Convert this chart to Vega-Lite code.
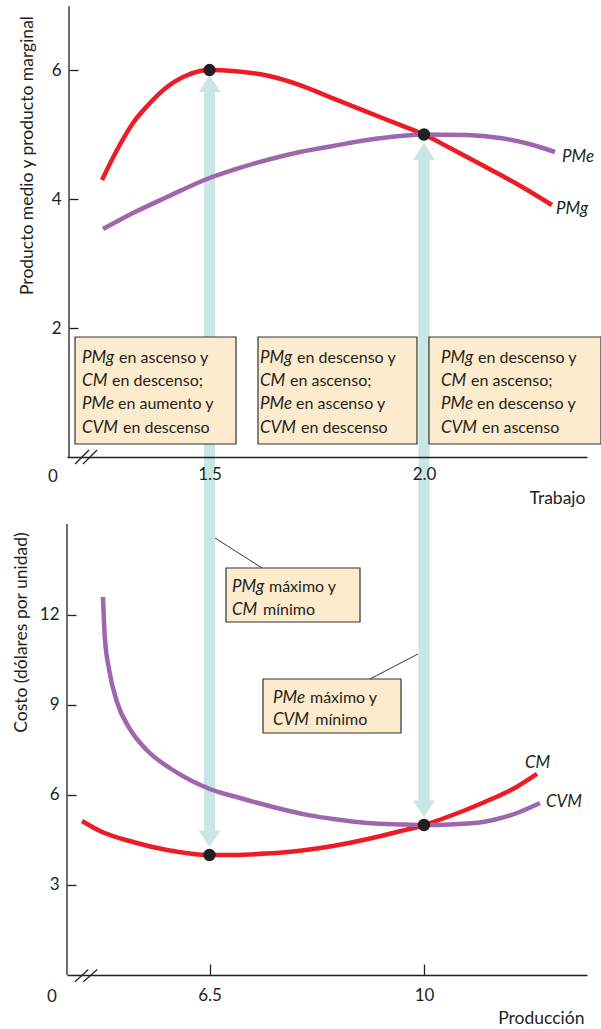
{
  "$schema": "https://vega.github.io/schema/vega-lite/v6.json",
  "width": 520,
  "height": 970,
  "autosize": "none",
  "padding": {"left": 67, "top": 5, "right": 14, "bottom": 54},
  "background": "white",
  "config": {
    "view": {"stroke": null},
    "axis": {
      "grid": false,
      "labelFont": "Lato",
      "labelFontSize": 17,
      "labelColor": "#231f20",
      "titleFont": "Lato",
      "titleFontSize": 17.5,
      "titleFontWeight": "normal",
      "titleColor": "#231f20",
      "domainColor": "#231f20",
      "domainWidth": 1.3,
      "tickColor": "#231f20",
      "tickWidth": 1.3
    },
    "text": {"font": "Lato", "fontSize": 16, "color": "#231f20"}
  },
  "datasets": {
    "topCurves": [
      {"curve": "PMg", "x": 1.2494, "y": 4.295},
      {"curve": "PMg", "x": 1.2844, "y": 4.76},
      {"curve": "PMg", "x": 1.3217, "y": 5.178},
      {"curve": "PMg", "x": 1.3613, "y": 5.488},
      {"curve": "PMg", "x": 1.4009, "y": 5.736},
      {"curve": "PMg", "x": 1.4382, "y": 5.891},
      {"curve": "PMg", "x": 1.4779, "y": 5.984},
      {"curve": "PMg", "x": 1.5, "y": 6.0},
      {"curve": "PMg", "x": 1.5548, "y": 5.985},
      {"curve": "PMg", "x": 1.634, "y": 5.915},
      {"curve": "PMg", "x": 1.711, "y": 5.767},
      {"curve": "PMg", "x": 1.7879, "y": 5.56},
      {"curve": "PMg", "x": 1.8671, "y": 5.35},
      {"curve": "PMg", "x": 1.9441, "y": 5.15},
      {"curve": "PMg", "x": 2.0, "y": 5.0},
      {"curve": "PMg", "x": 2.0606, "y": 4.791},
      {"curve": "PMg", "x": 2.1375, "y": 4.519},
      {"curve": "PMg", "x": 2.2168, "y": 4.233},
      {"curve": "PMg", "x": 2.2984, "y": 3.907},
      {"curve": "PMe", "x": 1.2517, "y": 3.535},
      {"curve": "PMe", "x": 1.3217, "y": 3.783},
      {"curve": "PMe", "x": 1.4009, "y": 4.031},
      {"curve": "PMe", "x": 1.5, "y": 4.326},
      {"curve": "PMe", "x": 1.5548, "y": 4.45},
      {"curve": "PMe", "x": 1.634, "y": 4.605},
      {"curve": "PMe", "x": 1.711, "y": 4.729},
      {"curve": "PMe", "x": 1.7879, "y": 4.822},
      {"curve": "PMe", "x": 1.8671, "y": 4.915},
      {"curve": "PMe", "x": 1.9441, "y": 4.977},
      {"curve": "PMe", "x": 2.0, "y": 5.0},
      {"curve": "PMe", "x": 2.1002, "y": 4.992},
      {"curve": "PMe", "x": 2.1772, "y": 4.946},
      {"curve": "PMe", "x": 2.2541, "y": 4.837},
      {"curve": "PMe", "x": 2.3054, "y": 4.729}
    ],
    "botCurves": [
      {"curve": "CM", "x": 4.4196, "y": 5.133},
      {"curve": "CM", "x": 4.7133, "y": 4.8},
      {"curve": "CM", "x": 5.2518, "y": 4.433},
      {"curve": "CM", "x": 5.8065, "y": 4.167},
      {"curve": "CM", "x": 6.5, "y": 4.0},
      {"curve": "CM", "x": 6.8834, "y": 4.0},
      {"curve": "CM", "x": 7.4382, "y": 4.05},
      {"curve": "CM", "x": 7.9767, "y": 4.143},
      {"curve": "CM", "x": 8.5152, "y": 4.3},
      {"curve": "CM", "x": 9.0699, "y": 4.523},
      {"curve": "CM", "x": 9.6083, "y": 4.79},
      {"curve": "CM", "x": 10.0, "y": 5.0},
      {"curve": "CM", "x": 10.4243, "y": 5.3},
      {"curve": "CM", "x": 10.9627, "y": 5.743},
      {"curve": "CM", "x": 11.5175, "y": 6.277},
      {"curve": "CM", "x": 11.8438, "y": 6.7},
      {"curve": "CVM", "x": 4.7622, "y": 12.6},
      {"curve": "CVM", "x": 4.79, "y": 11.3},
      {"curve": "CVM", "x": 4.86, "y": 10.2},
      {"curve": "CVM", "x": 4.99, "y": 9.1},
      {"curve": "CVM", "x": 5.2, "y": 8.2},
      {"curve": "CVM", "x": 5.5, "y": 7.45},
      {"curve": "CVM", "x": 5.85, "y": 6.9},
      {"curve": "CVM", "x": 6.1818, "y": 6.5},
      {"curve": "CVM", "x": 6.5082, "y": 6.2},
      {"curve": "CVM", "x": 6.9977, "y": 5.9},
      {"curve": "CVM", "x": 7.5361, "y": 5.6},
      {"curve": "CVM", "x": 8.1399, "y": 5.32},
      {"curve": "CVM", "x": 8.5152, "y": 5.2},
      {"curve": "CVM", "x": 9.0699, "y": 5.067},
      {"curve": "CVM", "x": 9.6083, "y": 5.02},
      {"curve": "CVM", "x": 10.0, "y": 5.0},
      {"curve": "CVM", "x": 10.4243, "y": 5.02},
      {"curve": "CVM", "x": 10.9627, "y": 5.1},
      {"curve": "CVM", "x": 11.5175, "y": 5.4},
      {"curve": "CVM", "x": 11.8928, "y": 5.733}
    ],
    "arrows": [
      {"x": 1.5, "y": 5.69, "y2": -5.8295},
      {"x": 2.0, "y": 4.6357, "y2": -5.3798}
    ],
    "arrowHeads": [
      {"x": 1.5, "y": 5.9225, "dir": "up"},
      {"x": 2.0, "y": 4.8682, "dir": "up"},
      {"x": 1.5, "y": -6.0465, "dir": "down"},
      {"x": 2.0, "y": -5.5814, "dir": "down"}
    ],
    "topAxisLine": [{"x": 1.1725, "y": 0, "y2": 6.99}],
    "botAxisLine": [{"x": 4.1748, "y": 0, "y2": 15.033}],
    "topDots": [{"x": 1.5, "y": 6.0}, {"x": 2.0, "y": 5.0}],
    "botDots": [{"x": 6.5, "y": 4.0}, {"x": 10.0, "y": 5.0}],
    "topBoxes": [
      {"x": 1.18648, "x2": 1.56177, "y": 1.8605, "y2": 0.2016},
      {"x": 1.61305, "x2": 1.98368, "y": 1.8605, "y2": 0.2016},
      {"x": 2.01166, "x2": 2.41259, "y": 1.8605, "y2": 0.2016}
    ],
    "topText": [
      {"part": "sym", "x": 1.2028, "y": 1.462, "text": "PMg"},
      {"part": "desc", "x": 1.2891, "y": 1.462, "text": "en ascenso y"},
      {"part": "sym", "x": 1.2028, "y": 1.101, "text": "CM"},
      {"part": "desc", "x": 1.2728, "y": 1.101, "text": "en descenso;"},
      {"part": "sym", "x": 1.2028, "y": 0.7395, "text": "PMe"},
      {"part": "desc", "x": 1.2867, "y": 0.7395, "text": "en aumento y"},
      {"part": "sym", "x": 1.2028, "y": 0.3767, "text": "CVM"},
      {"part": "desc", "x": 1.2983, "y": 0.3767, "text": "en descenso"},
      {"part": "sym", "x": 1.6177, "y": 1.462, "text": "PMg"},
      {"part": "desc", "x": 1.704, "y": 1.462, "text": "en descenso y"},
      {"part": "sym", "x": 1.6177, "y": 1.101, "text": "CM"},
      {"part": "desc", "x": 1.6877, "y": 1.101, "text": "en ascenso;"},
      {"part": "sym", "x": 1.6177, "y": 0.7395, "text": "PMe"},
      {"part": "desc", "x": 1.7017, "y": 0.7395, "text": "en ascenso y"},
      {"part": "sym", "x": 1.6177, "y": 0.3767, "text": "CVM"},
      {"part": "desc", "x": 1.7132, "y": 0.3767, "text": "en descenso"},
      {"part": "sym", "x": 2.0396, "y": 1.462, "text": "PMg"},
      {"part": "desc", "x": 2.1259, "y": 1.462, "text": "en descenso y"},
      {"part": "sym", "x": 2.0396, "y": 1.101, "text": "CM"},
      {"part": "desc", "x": 2.1096, "y": 1.101, "text": "en ascenso;"},
      {"part": "sym", "x": 2.0396, "y": 0.7395, "text": "PMe"},
      {"part": "desc", "x": 2.1236, "y": 0.7395, "text": "en descenso y"},
      {"part": "sym", "x": 2.0396, "y": 0.3767, "text": "CVM"},
      {"part": "desc", "x": 2.1352, "y": 0.3767, "text": "en ascenso"}
    ],
    "topLabels": [
      {"x": 2.3217, "y": 4.574, "text": "PMe"},
      {"x": 2.3077, "y": 3.767, "text": "PMg"}
    ],
    "topBreak": [
      {"x": 1.1865, "y": -0.1085, "x2": 1.2191, "y2": 0.1085},
      {"x": 1.2051, "y": -0.1085, "x2": 1.2378, "y2": 0.1085}
    ],
    "topZero": [{"x": 1.1352, "y": -0.3101, "text": "0"}],
    "botBoxes": [
      {"x": 6.7692, "x2": 8.9557, "y": 13.567, "y2": 11.767},
      {"x": 7.373, "x2": 9.6247, "y": 9.867, "y2": 8.067}
    ],
    "botText": [
      {"part": "sym", "x": 6.8671, "y": 12.757, "text": "PMg"},
      {"part": "desc", "x": 7.4708, "y": 12.757, "text": "máximo y"},
      {"part": "sym", "x": 6.8671, "y": 12.0, "text": "CM"},
      {"part": "desc", "x": 7.3729, "y": 12.0, "text": "mínimo"},
      {"part": "sym", "x": 7.5361, "y": 9.077, "text": "PMe"},
      {"part": "desc", "x": 8.1398, "y": 9.077, "text": "máximo y"},
      {"part": "sym", "x": 7.5361, "y": 8.333, "text": "CVM"},
      {"part": "desc", "x": 8.2263, "y": 8.333, "text": "mínimo"}
    ],
    "leaders": [
      {"x": 6.5897, "y": 14.567, "x2": 7.3566, "y2": 13.567},
      {"x": 9.1189, "y": 9.867, "x2": 9.902, "y2": 10.7}
    ],
    "botLabels": [
      {"x": 11.648, "y": 6.9, "text": "CM"},
      {"x": 11.9907, "y": 5.61, "text": "CVM"}
    ],
    "botBreak": [
      {"x": 4.3054, "y": -0.2233, "x2": 4.5224, "y2": 0.1833},
      {"x": 4.4408, "y": -0.2233, "x2": 4.6692, "y2": 0.1833}
    ],
    "botZero": [{"x": 3.93, "y": -0.7333, "text": "0"}]
  },
  "layer": [
    {
      "encoding": {
        "x": {
          "field": "x", "type": "quantitative",
          "scale": {"domain": [1.1678, 2.38], "nice": false, "zero": false},
          "axis": {
            "orient": "bottom", "offset": -518, "values": [1.5, 2.0], "format": ".1f",
            "ticks": false, "labelPadding": 9, "zindex": 1,
            "title": "Trabajo", "titleX": 518, "titleY": 41,
            "titleAlign": "right", "titleBaseline": "middle"
          }
        },
        "y": {
          "field": "y", "type": "quantitative",
          "scale": {"domain": [-8.031, 7.008], "nice": false, "zero": false},
          "axis": {
            "orient": "left", "offset": -2, "values": [2, 4, 6], "domain": false,
            "tickSize": -9, "labelPadding": 17,
            "title": "Producto medio y producto marginal",
            "titleX": -42, "titleY": 150, "titleAngle": 270,
            "titleAlign": "center", "titleBaseline": "middle"
          }
        }
      },
      "layer": [
        {
          "data": {"name": "arrows"},
          "mark": {"type": "rule", "strokeWidth": 11, "color": "#c8e6e3"},
          "encoding": {"y2": {"field": "y2"}}
        },
        {
          "data": {"name": "arrowHeads"},
          "transform": [{"filter": "datum.dir === 'up'"}],
          "mark": {"type": "point", "shape": "M0,0L-1,1.55L1,1.55Z", "size": 484, "filled": true, "color": "#c8e6e3", "opacity": 1, "strokeWidth": 0}
        },
        {
          "data": {"name": "arrowHeads"},
          "transform": [{"filter": "datum.dir === 'down'"}],
          "mark": {"type": "point", "shape": "M0,0L-1,-1.5L1,-1.5Z", "size": 484, "filled": true, "color": "#c8e6e3", "opacity": 1, "strokeWidth": 0}
        },
        {
          "data": {"name": "topAxisLine"},
          "mark": {"type": "rule", "color": "#231f20", "strokeWidth": 1.3},
          "encoding": {"y2": {"field": "y2"}}
        },
        {
          "data": {"name": "topCurves"},
          "mark": {"type": "line", "strokeWidth": 4.5, "interpolate": "monotone"},
          "encoding": {
            "color": {
              "field": "curve", "type": "nominal",
              "scale": {"domain": ["PMg", "PMe", "CM", "CVM"], "range": ["#ed1c24", "#a066ad", "#ed1c24", "#a066ad"]},
              "legend": null
            }
          }
        },
        {
          "data": {"name": "topBoxes"},
          "mark": {"type": "rect", "fill": "#fdebcd", "stroke": "#333333", "strokeWidth": 1.2},
          "encoding": {"x2": {"field": "x2"}, "y2": {"field": "y2"}}
        },
        {
          "data": {"name": "topText"},
          "transform": [{"filter": "datum.part === 'sym'"}],
          "mark": {"type": "text", "align": "left", "baseline": "alphabetic", "fontStyle": "italic", "fontSize": 17},
          "encoding": {"text": {"field": "text"}}
        },
        {
          "data": {"name": "topText"},
          "transform": [{"filter": "datum.part === 'desc'"}],
          "mark": {"type": "text", "align": "left", "baseline": "alphabetic"},
          "encoding": {"text": {"field": "text"}}
        },
        {
          "data": {"name": "topLabels"},
          "mark": {"type": "text", "align": "left", "baseline": "alphabetic", "fontStyle": "italic", "fontSize": 17},
          "encoding": {"text": {"field": "text"}}
        },
        {
          "data": {"name": "topDots"},
          "mark": {"type": "point", "shape": "circle", "size": 154, "filled": true, "color": "#231f20", "opacity": 1}
        },
        {
          "data": {"name": "topBreak"},
          "mark": {"type": "rule", "color": "#231f20", "strokeWidth": 1.2},
          "encoding": {"x2": {"field": "x2"}, "y2": {"field": "y2"}}
        },
        {
          "data": {"name": "topZero"},
          "mark": {"type": "text", "align": "center", "baseline": "middle", "fontSize": 17},
          "encoding": {"text": {"field": "text"}}
        }
      ]
    },
    {
      "encoding": {
        "x": {
          "field": "x", "type": "quantitative",
          "scale": {"domain": [4.1748, 12.6597], "nice": false, "zero": false},
          "axis": {
            "orient": "bottom", "offset": 0, "values": [6.5, 10], "format": ".2r",
            "tickSize": -11, "labelPadding": 23,
            "title": "Producción", "titleX": 517, "titleY": 43,
            "titleAlign": "right", "titleBaseline": "middle"
          }
        },
        "y": {
          "field": "y", "type": "quantitative",
          "scale": {"domain": [0, 32.333], "nice": false, "zero": false},
          "axis": {
            "orient": "left", "offset": 0, "values": [3, 6, 9, 12], "domain": false,
            "tickSize": -9, "labelPadding": 17,
            "title": "Costo (dólares por unidad)",
            "titleX": -46, "titleY": 627, "titleAngle": 270,
            "titleAlign": "center", "titleBaseline": "middle"
          }
        }
      },
      "layer": [
        {
          "data": {"name": "botAxisLine"},
          "mark": {"type": "rule", "color": "#231f20", "strokeWidth": 1.3},
          "encoding": {"y2": {"field": "y2"}}
        },
        {
          "data": {"name": "botCurves"},
          "mark": {"type": "line", "strokeWidth": 4.5, "interpolate": "monotone"},
          "encoding": {
            "color": {
              "field": "curve", "type": "nominal",
              "scale": {"domain": ["PMg", "PMe", "CM", "CVM"], "range": ["#ed1c24", "#a066ad", "#ed1c24", "#a066ad"]},
              "legend": null
            }
          }
        },
        {
          "data": {"name": "leaders"},
          "mark": {"type": "rule", "color": "#231f20", "strokeWidth": 0.9},
          "encoding": {"x2": {"field": "x2"}, "y2": {"field": "y2"}}
        },
        {
          "data": {"name": "botBoxes"},
          "mark": {"type": "rect", "fill": "#fdebcd", "stroke": "#333333", "strokeWidth": 1.2},
          "encoding": {"x2": {"field": "x2"}, "y2": {"field": "y2"}}
        },
        {
          "data": {"name": "botText"},
          "transform": [{"filter": "datum.part === 'sym'"}],
          "mark": {"type": "text", "align": "left", "baseline": "alphabetic", "fontStyle": "italic", "fontSize": 17},
          "encoding": {"text": {"field": "text"}}
        },
        {
          "data": {"name": "botText"},
          "transform": [{"filter": "datum.part === 'desc'"}],
          "mark": {"type": "text", "align": "left", "baseline": "alphabetic"},
          "encoding": {"text": {"field": "text"}}
        },
        {
          "data": {"name": "botLabels"},
          "mark": {"type": "text", "align": "left", "baseline": "alphabetic", "fontStyle": "italic", "fontSize": 17},
          "encoding": {"text": {"field": "text"}}
        },
        {
          "data": {"name": "botDots"},
          "mark": {"type": "point", "shape": "circle", "size": 154, "filled": true, "color": "#231f20", "opacity": 1}
        },
        {
          "data": {"name": "botBreak"},
          "mark": {"type": "rule", "color": "#231f20", "strokeWidth": 1.2},
          "encoding": {"x2": {"field": "x2"}, "y2": {"field": "y2"}}
        },
        {
          "data": {"name": "botZero"},
          "mark": {"type": "text", "align": "center", "baseline": "middle", "fontSize": 17},
          "encoding": {"text": {"field": "text"}}
        }
      ]
    }
  ],
  "resolve": {"scale": {"x": "independent", "y": "independent"}}
}
